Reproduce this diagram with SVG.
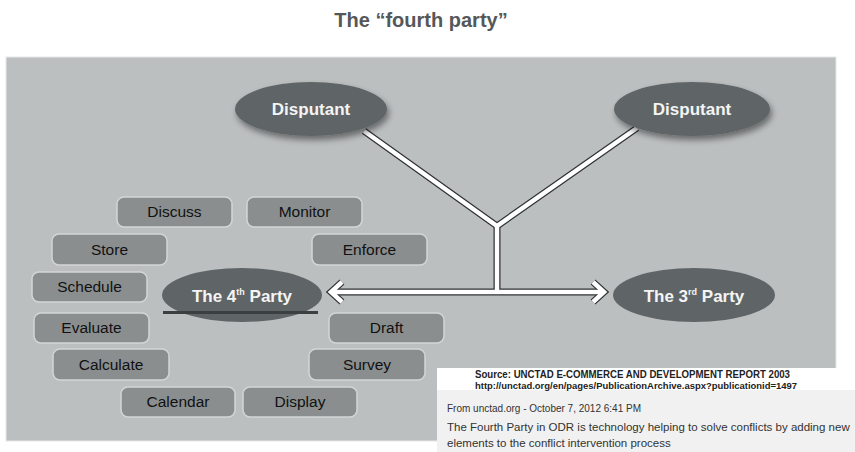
<svg xmlns="http://www.w3.org/2000/svg" width="855" height="452" viewBox="0 0 855 452">
<style>
.title{font-family:"Liberation Sans",Arial,sans-serif;font-weight:bold;font-size:20px;fill:#55585a;text-anchor:middle}
.ell{fill:#5f6566}
.etx{font-family:"Liberation Sans",Arial,sans-serif;font-weight:bold;font-size:17px;fill:#f4f4f4;text-anchor:middle}
.box{fill:#8a8e8f;stroke:#d3d6d7;stroke-width:1.5}
.btx{font-family:"Liberation Sans",Arial,sans-serif;font-size:15.5px;fill:#111;text-anchor:middle}
.outer{fill:none;stroke:#2e3233;stroke-width:7;stroke-linejoin:miter}
.inner{fill:none;stroke:#ffffff;stroke-width:4.5;stroke-linejoin:miter}
.src{font-family:"Liberation Sans",Arial,sans-serif;font-weight:bold;fill:#222}
.small{font-family:"Liberation Sans",Arial,sans-serif;fill:#333}
</style>
<defs>
<filter id="sh" x="-20%" y="-30%" width="140%" height="170%">
<feDropShadow dx="2" dy="4" stdDeviation="3" flood-color="#000" flood-opacity="0.45"/>
</filter>
</defs>
<rect width="855" height="452" fill="#ffffff"/>
<text class="title" x="421" y="27">The “fourth party”</text>
<rect x="6" y="57" width="830" height="384" fill="#bcbfc0" stroke="#e6e7e7" stroke-width="1"/>

<g id="connectors">
<polyline class="outer" points="364,131 497,226 637,128"/>
<line class="outer" x1="497" y1="224" x2="497" y2="292"/>
<line class="outer" x1="334" y1="292" x2="601" y2="292"/>
<polyline class="outer" points="342,282 331,292 342,302"/>
<polyline class="outer" points="593,282 604,292 593,302"/>
<polyline class="inner" points="364,131 497,226 637,128"/>
<line class="inner" x1="497" y1="224" x2="497" y2="292"/>
<line class="inner" x1="334" y1="292" x2="601" y2="292"/>
<polyline class="inner" points="342,282 331,292 342,302"/>
<polyline class="inner" points="593,282 604,292 593,302"/>
</g>

<g id="disputant-left">
<ellipse class="ell" cx="311" cy="109" rx="76" ry="27" filter="url(#sh)"/>
<text class="etx" x="311" y="115">Disputant</text>
</g>
<g id="disputant-right">
<ellipse class="ell" cx="692" cy="109" rx="78" ry="27" filter="url(#sh)"/>
<text class="etx" x="692" y="115">Disputant</text>
</g>
<g id="fourth-party">
<ellipse class="ell" cx="242" cy="295" rx="80" ry="27"/>
<rect x="163" y="311" width="155" height="3" fill="#3b3f40"/>
<text class="etx" x="242" y="302">The 4<tspan font-size="9" dy="-7">th</tspan><tspan dy="7"> Party</tspan></text>
</g>
<g id="third-party">
<ellipse class="ell" cx="694" cy="295" rx="81" ry="27"/>
<text class="etx" x="694" y="302">The 3<tspan font-size="9" dy="-7">rd</tspan><tspan dy="7"> Party</tspan></text>
</g>

<g id="discuss"><rect class="box" x="117" y="197" width="115" height="30" rx="7"/><text class="btx" x="174.5" y="217">Discuss</text></g>
<g id="monitor"><rect class="box" x="247" y="197" width="115" height="30" rx="7"/><text class="btx" x="304.5" y="217">Monitor</text></g>
<g id="store"><rect class="box" x="52" y="234" width="115" height="31" rx="7"/><text class="btx" x="109.5" y="255">Store</text></g>
<g id="enforce"><rect class="box" x="312" y="234" width="115" height="31" rx="7"/><text class="btx" x="369.5" y="255">Enforce</text></g>
<g id="schedule"><rect class="box" x="32" y="272" width="115" height="30" rx="7"/><text class="btx" x="89.5" y="292">Schedule</text></g>
<g id="evaluate"><rect class="box" x="34" y="313" width="115" height="30" rx="7"/><text class="btx" x="91.5" y="333">Evaluate</text></g>
<g id="draft"><rect class="box" x="329" y="313" width="115" height="30" rx="7"/><text class="btx" x="386.5" y="333">Draft</text></g>
<g id="calculate"><rect class="box" x="53" y="349" width="116" height="31" rx="7"/><text class="btx" x="111" y="370">Calculate</text></g>
<g id="survey"><rect class="box" x="309" y="349" width="116" height="31" rx="7"/><text class="btx" x="367" y="370">Survey</text></g>
<g id="calendar"><rect class="box" x="121" y="387" width="114" height="30" rx="7"/><text class="btx" x="178" y="407">Calendar</text></g>
<g id="display"><rect class="box" x="243" y="387" width="114" height="30" rx="7"/><text class="btx" x="300" y="407">Display</text></g>

<g id="source">
<rect x="437" y="368" width="418" height="84" fill="#ffffff"/>
<rect x="437" y="390" width="418" height="62" fill="#f1f1f1"/>
<text class="src" x="475" y="378" font-size="10" textLength="315" lengthAdjust="spacingAndGlyphs">Source: UNCTAD E-COMMERCE AND DEVELOPMENT REPORT 2003</text>
<text class="src" x="475" y="389" font-size="9" textLength="322" lengthAdjust="spacingAndGlyphs">http://unctad.org/en/pages/PublicationArchive.aspx?publicationid=1497</text>
<text class="small" x="447" y="412" font-size="10" fill="#777"><tspan fill="#333">From</tspan> unctad.org - October 7, 2012 6:41 PM</text>
<text class="small" x="447" y="431" font-size="11.5">The Fourth Party in ODR is technology helping to solve conflicts by adding new</text>
<text class="small" x="447" y="447" font-size="11.5">elements to the conflict intervention process</text>
</g>
</svg>
